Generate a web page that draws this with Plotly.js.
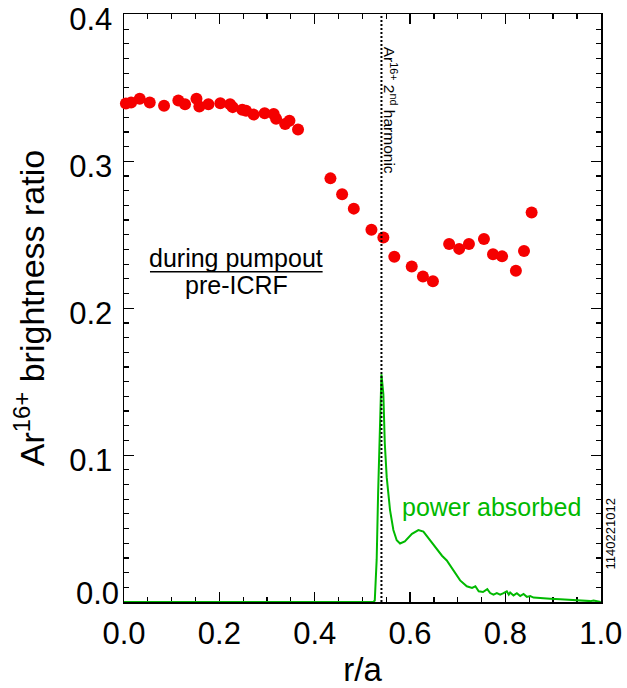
<!DOCTYPE html>
<html>
<head>
<meta charset="utf-8">
<script src="https://cdn.plot.ly/plotly-3.0.1.min.js"></script>
<style>html,body{margin:0;padding:0;background:#fff;}#chart{width:627px;height:688px;}</style>
</head>
<body>
<div id="chart"></div>
<script>
// Ar16+ brightness ratio (during pumpout / pre-ICRF) vs r/a
const ratioR = [0.004, 0.015, 0.033, 0.054, 0.084, 0.114, 0.128, 0.152, 0.158, 0.177, 0.202, 0.2225, 0.228, 0.248, 0.256, 0.272, 0.295, 0.314, 0.319, 0.338, 0.347, 0.365,
  0.433, 0.4575, 0.482, 0.519, 0.544, 0.567, 0.6035, 0.627, 0.648, 0.682, 0.703, 0.7235, 0.755, 0.774, 0.793, 0.822, 0.839, 0.855];
const ratioVal = [0.3394, 0.3401, 0.3426, 0.3401, 0.3378, 0.3414, 0.3389, 0.3426, 0.3374, 0.3389, 0.3396, 0.3389, 0.3369, 0.3351, 0.3345, 0.3318, 0.3328, 0.3322, 0.3290, 0.3254, 0.3277, 0.3216,
  0.2884, 0.2776, 0.2678, 0.2534, 0.2482, 0.2351, 0.2284, 0.2216, 0.2184, 0.2437, 0.2404, 0.2437, 0.2471, 0.2367, 0.2353, 0.2255, 0.2390, 0.2651];

// Power absorbed profile (arbitrary units, drawn on the same axis)
const powerR = [0.0, 0.1, 0.2, 0.3, 0.4, 0.5, 0.523, 0.526, 0.530, 0.533, 0.537, 0.540, 0.544, 0.547, 0.551, 0.558, 0.565, 0.572, 0.579, 0.589, 0.604, 0.6175, 0.628, 0.6385, 0.6526, 0.667, 0.677, 0.691, 0.705, 0.719, 0.730, 0.737, 0.744, 0.753, 0.762, 0.768, 0.775, 0.782, 0.789, 0.796, 0.803, 0.807, 0.810, 0.817, 0.824, 0.831, 0.838, 0.845, 0.852, 0.859, 0.873, 0.894, 0.915, 0.936, 0.957, 0.978, 0.985, 0.996, 1.0];
const powerVal = [0, 0, 0, 0, 0, 0, 0, 0.001, 0.029, 0.074, 0.119, 0.155, 0.1416, 0.108, 0.085, 0.0626, 0.049, 0.042, 0.0398, 0.0412, 0.0464, 0.049, 0.0479, 0.0435, 0.0377, 0.0315, 0.0283, 0.0215, 0.0147, 0.0107, 0.0096, 0.0107, 0.0073, 0.0068, 0.0088, 0.0061, 0.005, 0.006, 0.005, 0.006, 0.0073, 0.005, 0.0065, 0.0045, 0.006, 0.004, 0.0055, 0.0035, 0.004, 0.003, 0.0025, 0.0022, 0.0018, 0.0013, 0.0009, 0.0006, 0.001, 0.0003, 0];

const harmonicR = 0.540;
const xRange = [0, 1.0005];
const yRange = [0, 0.4003];
const xTicks = [0.0, 0.2, 0.4, 0.6, 0.8, 1.0];
const xTickText = ['0.0', '0.2', '0.4', '0.6', '0.8', '1.0'];
const yTicks = [0.0, 0.1, 0.2, 0.3, 0.4];
const yTickText = ['', '0.1', '0.2', '0.3', '0.4'];
const yBottomTick = [0.0];
const yBottomText = ['0.0'];

const FONT = 'Liberation Sans, Arial, Helvetica, sans-serif';
const GREEN = 'rgb(0,185,0)';
const RED = 'rgb(245,0,0)';

const traces = [
  {x: powerR, y: powerVal, type: 'scatter', mode: 'lines', line: {color: GREEN, width: 2}, hoverinfo: 'skip', cliponaxis: false},
  {x: ratioR, y: ratioVal, type: 'scatter', mode: 'markers', marker: {color: RED, size: 12, line: {width: 0}}, cliponaxis: false},
  // empty traces so that the mirrored (top/right) tick axes and the extra label axis are drawn
  {x: [], y: [], type: 'scatter', mode: 'markers', xaxis: 'x2', yaxis: 'y2', hoverinfo: 'skip', showlegend: false},
  {x: [], y: [], type: 'scatter', mode: 'markers', xaxis: 'x', yaxis: 'y3', hoverinfo: 'skip', showlegend: false}
];

const axisCommon = {
  showgrid: false, zeroline: false, showline: true, linecolor: 'black', linewidth: 1.5,
  ticks: 'inside', ticklen: 10, tickwidth: 1.2, tickcolor: 'black',
  layer: 'below traces',
  tickfont: {family: FONT, size: 31, color: 'black'}
};
const xMinor = {dtick: 0.05, ticklen: 5, tickwidth: 1.2, tickcolor: 'black', ticks: 'inside'};
const yMinor = {dtick: 0.01, ticklen: 5, tickwidth: 1.2, tickcolor: 'black', ticks: 'inside'};

const layout = {
  width: 627, height: 688,
  margin: {l: 124, r: 26, t: 14, b: 86},
  paper_bgcolor: 'white', plot_bgcolor: 'white',
  showlegend: false,
  font: {family: FONT, color: 'black'},
  xaxis: Object.assign({}, axisCommon, {
    range: xRange, tickmode: 'array', tickvals: xTicks, ticktext: xTickText,
    ticklabelstandoff: 3, minor: xMinor,
    title: {text: 'r/a', font: {family: FONT, size: 33, color: 'black'}, standoff: 18}
  }),
  yaxis: Object.assign({}, axisCommon, {
    range: yRange, tickmode: 'array', tickvals: yTicks, ticktext: yTickText,
    ticklabelstandoff: 4, ticklabelshift: 5, ticklabeloverflow: 'allow', minor: yMinor,
    title: {text: 'Ar<sup>16+</sup> brightness ratio', font: {family: FONT, size: 34, color: 'black'}, standoff: 14}
  }),
  yaxis3: {
    overlaying: 'y', side: 'left', anchor: 'x', range: yRange, tickmode: 'array', tickvals: yBottomTick, ticktext: yBottomText,
    showgrid: false, zeroline: false, showline: false, ticks: '', ticklabelstandoff: 4, ticklabelshift: -9,
    ticklabeloverflow: 'allow', tickfont: {family: FONT, size: 31, color: 'black'}
  },
  xaxis2: Object.assign({}, axisCommon, {
    overlaying: 'x', side: 'top', anchor: 'y2', range: xRange, tickmode: 'array', tickvals: xTicks,
    showticklabels: false, minor: xMinor
  }),
  yaxis2: Object.assign({}, axisCommon, {
    overlaying: 'y', side: 'right', anchor: 'x2', range: yRange, tickmode: 'array', tickvals: yTicks,
    showticklabels: false, minor: yMinor
  }),
  shapes: [
    {type: 'line', xref: 'x', yref: 'paper', x0: harmonicR, x1: harmonicR, y0: 0, y1: 1, line: {color: 'black', width: 2, dash: '2px,2px'}},
    {type: 'line', xref: 'x', yref: 'y', x0: 0.0545, x1: 0.4166, y0: 0.2249, y1: 0.2249, line: {color: 'black', width: 1.5}}
  ],
  annotations: [
    {text: 'during pumpout', xref: 'x', yref: 'y', x: 0.235, y: 0.2345, showarrow: false, xanchor: 'center', yanchor: 'middle', font: {family: FONT, size: 25, color: 'black'}},
    {text: 'pre-ICRF', xref: 'x', yref: 'y', x: 0.235, y: 0.2155, showarrow: false, xanchor: 'center', yanchor: 'middle', font: {family: FONT, size: 25, color: 'black'}},
    {text: 'power absorbed', xref: 'x', yref: 'y', x: 0.770, y: 0.065, showarrow: false, xanchor: 'center', yanchor: 'middle', font: {family: FONT, size: 25, color: GREEN}},
    {text: 'Ar<sup>16+</sup> 2<sup>nd</sup> harmonic', xref: 'x', yref: 'y', x: 0.5585, y: 0.335, textangle: 90, showarrow: false, xanchor: 'center', yanchor: 'middle', font: {family: FONT, size: 15.5, color: 'black'}},
    {text: '1140221012', xref: 'paper', yref: 'paper', x: 1.0203, y: 0.116, textangle: -90, showarrow: false, xanchor: 'center', yanchor: 'middle', font: {family: FONT, size: 13, color: 'black'}}
  ]
};

Plotly.newPlot('chart', traces, layout, {displayModeBar: false, staticPlot: true});
</script>
</body>
</html>
